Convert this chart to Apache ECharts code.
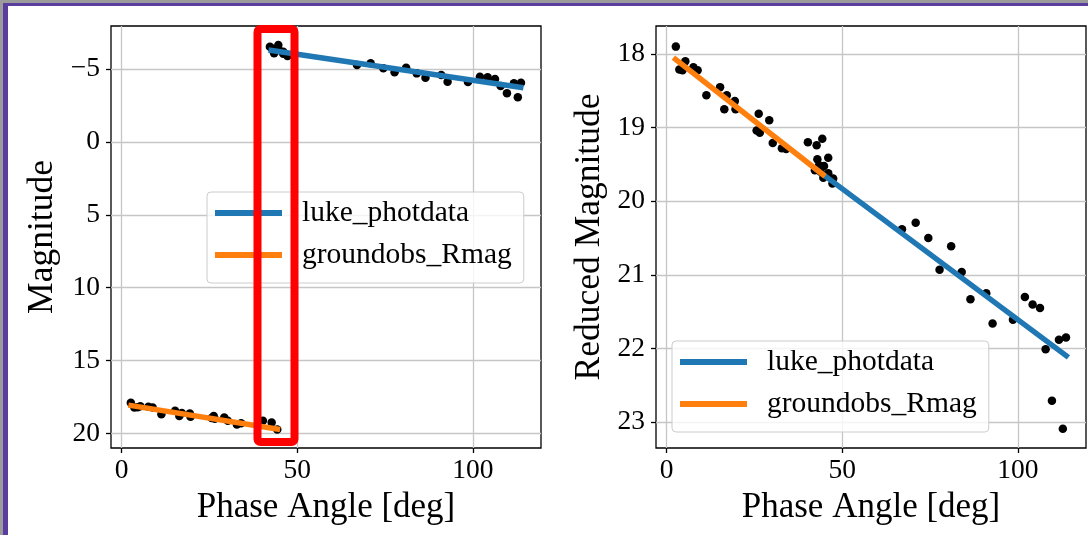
<!DOCTYPE html>
<html>
<head>
<meta charset="utf-8">
<script src="https://cdn.jsdelivr.net/npm/echarts@6/dist/echarts.min.js"></script>
<style>
  html, body { margin: 0; padding: 0; width: 1088px; height: 535px; overflow: hidden; background: #9b9b9b; }
  #frame { position: absolute; left: 3px; top: 3px; width: 1080px; height: 529px; border-left: 5px solid #5a3d9e; border-top: 3px solid #5a3d9e; background: #ffffff; }
  #chart { position: absolute; left: 0; top: 0; width: 1088px; height: 535px; }
</style>
</head>
<body>
<div id="frame"></div>
<div id="chart"></div>
<script>
// ---- data ----
const xTicks = [0, 50, 100];
const magTicks = [-5, 0, 5, 10, 15, 20];
const redMagTicks = [18, 19, 20, 21, 22, 23];

const groundPhase  = [2.6, 3.6, 4.5, 5.3, 7.6, 8.8, 11.3, 15.2, 16.4, 17.1, 19.4, 19.6, 25.6, 26.2, 26.5, 29.2, 30.2, 32.8, 34.0, 40.2, 42.7, 44.3];
const groundMag    = [17.90, 18.22, 18.20, 18.13, 18.17, 18.22, 18.68, 18.45, 18.81, 18.60, 18.63, 18.86, 18.95, 18.81, 19.00, 18.90, 19.13, 19.38, 19.31, 19.13, 19.25, 19.73];
const groundRedMag = [17.90, 18.21, 18.22, 18.10, 18.18, 18.22, 18.56, 18.45, 18.75, 18.56, 18.64, 18.75, 19.04, 18.81, 19.07, 18.90, 19.21, 19.28, 19.29, 19.20, 19.24, 19.15];

const lukePhase  = [42.2, 42.9, 43.4, 43.8, 44.6, 44.8, 46.0, 46.0, 47.2, 47.4, 67.0, 70.9, 74.5, 77.7, 81.0, 84.0, 86.5, 91.0, 92.8, 98.6, 102.0, 104.2, 106.3, 107.9, 109.7, 111.7, 112.8, 113.7];
const lukeMag    = [-6.53, -6.40, -6.08, -6.25, -6.65, -6.30, -6.19, -6.05, -5.89, -5.95, -5.27, -5.39, -5.05, -4.77, -5.09, -4.70, -4.40, -4.59, -4.13, -4.11, -4.47, -4.43, -4.31, -3.83, -3.33, -4.02, -3.06, -4.06];
const lukeRedMag = [19.58, 19.43, 19.51, 19.60, 19.68, 19.52, 19.41, 19.62, 19.76, 19.69, 20.38, 20.29, 20.50, 20.93, 20.61, 20.96, 21.33, 21.25, 21.66, 21.61, 21.30, 21.40, 21.45, 22.01, 22.71, 21.88, 23.09, 21.85];

const lukeFitPhase    = [41.8, 114.4];
const lukeFitMag      = [-6.30, -3.72];
const lukeFitRedMag   = [19.54, 22.12];
const groundFitPhase  = [1.9, 45.1];
const groundFitMag    = [18.06, 19.73];
const groundFitRedMag = [18.05, 19.66];

// ---- helpers ----
const zip = (a, b) => a.map((v, i) => [v, b[i]]);
const FONT = 'Liberation Serif';
const BLUE = '#1f77b4', ORANGE = '#ff7f0e';
const fmt = v => String(v).replace('-', '\u2212');

function xAxis(gridIndex) {
  return {
    type: 'value', gridIndex, min: -3.05, max: 119.4,
    name: 'Phase Angle [deg]', nameLocation: 'middle', nameGap: 40,
    nameTextStyle: { fontFamily: FONT, fontSize: 35, color: '#000', lineHeight: 34 },
    axisLine: { show: false, onZero: false },
    axisTick: { show: true, length: 5, inside: false, customValues: xTicks, lineStyle: { color: '#000', width: 1.3 } },
    axisLabel: { customValues: xTicks, fontFamily: FONT, fontSize: 27.5, color: '#000', margin: 9, formatter: fmt },
    splitLine: { show: true, lineStyle: { color: '#c6c6c6', width: 1.3 } }
  };
}
function yAxis(gridIndex, min, max, ticks, name, gap) {
  return {
    type: 'value', gridIndex, min, max, inverse: true,
    name, nameLocation: 'middle', nameGap: gap,
    nameTextStyle: { fontFamily: FONT, fontSize: 35.5, color: '#000', lineHeight: 34 },
    axisLine: { show: false, onZero: false },
    axisTick: { show: true, length: 5, inside: false, customValues: ticks, lineStyle: { color: '#000', width: 1.3 } },
    axisLabel: { customValues: ticks, fontFamily: FONT, fontSize: 27.5, color: '#000', margin: 11, formatter: fmt },
    splitLine: { show: true, lineStyle: { color: '#c6c6c6', width: 1.3 } }
  };
}
function scatter(name, xi, yi, data) {
  return { type: 'scatter', name, xAxisIndex: xi, yAxisIndex: yi, data, symbol: 'circle', symbolSize: 8.5,
           itemStyle: { color: '#000', opacity: 1 }, z: 2, silent: true };
}
function fit(name, xi, yi, data, color) {
  return { type: 'line', name, xAxisIndex: xi, yAxisIndex: yi, data, showSymbol: false, symbol: 'none',
           color, itemStyle: { color }, lineStyle: { color, width: 5.5, cap: 'butt' }, z: 3, silent: true };
}
function legend(left, top) {
  return {
    orient: 'vertical', left, top, data: ['luke_photdata', 'groundobs_Rmag'],
    icon: 'rect', itemWidth: 67, itemHeight: 6, itemGap: 12,
    padding: [6, 12, 13, 8],
    backgroundColor: 'rgba(255,255,255,0.8)', borderColor: '#cccccc', borderWidth: 1, borderRadius: 4,
    itemStyle: { borderWidth: 0 },
    textStyle: { fontFamily: FONT, fontSize: 29.5, color: '#000', lineHeight: 30, padding: [0, 0, 0, 15] },
    selectedMode: false, z: 10
  };
}

const chart = echarts.init(document.getElementById('chart'), null, { renderer: 'canvas' });
chart.setOption({
  animation: false,
  backgroundColor: 'transparent',
  grid: [
    { left: 111, top: 26, width: 430, height: 422, show: true, borderColor: '#000', borderWidth: 1.3, backgroundColor: 'transparent' },
    { left: 656, top: 26, width: 430, height: 422, show: true, borderColor: '#000', borderWidth: 1.3, backgroundColor: 'transparent' }
  ],
  xAxis: [xAxis(0), xAxis(1)],
  yAxis: [
    yAxis(0, -7.95, 21.0, magTicks, 'Magnitude', 51),
    yAxis(1, 17.62, 23.35, redMagTicks, 'Reduced Magnitude', 49)
  ],
  legend: [legend(207, 192), legend(672, 341)],
  series: [
    scatter('luke_pts', 0, 0, zip(lukePhase, lukeMag)),
    scatter('ground_pts', 0, 0, zip(groundPhase, groundMag)),
    fit('luke_photdata', 0, 0, zip(lukeFitPhase, lukeFitMag), BLUE),
    fit('groundobs_Rmag', 0, 0, zip(groundFitPhase, groundFitMag), ORANGE),
    scatter('luke_pts_r', 1, 1, zip(lukePhase, lukeRedMag)),
    scatter('ground_pts_r', 1, 1, zip(groundPhase, groundRedMag)),
    fit('luke_photdata', 1, 1, zip(lukeFitPhase, lukeFitRedMag), BLUE),
    fit('groundobs_Rmag', 1, 1, zip(groundFitPhase, groundFitRedMag), ORANGE)
  ],
  graphic: [
    { type: 'rect', z: 100, shape: { x: 257.5, y: 29, width: 37, height: 413, r: 3 },
      style: { fill: 'none', stroke: '#ff0000', lineWidth: 8 } }
  ]
});
</script>
</body>
</html>
